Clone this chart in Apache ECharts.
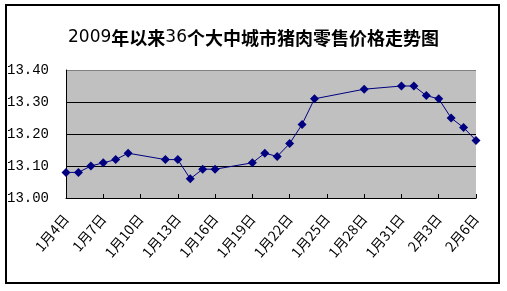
<!DOCTYPE html>
<html>
<head>
<meta charset="utf-8">
<script src="https://cdn.jsdelivr.net/npm/echarts@6/dist/echarts.min.js"></script>
<style>
html,body{margin:0;padding:0;background:#fff;}
#c{width:507px;height:291px;}
</style>
</head>
<body>
<div id="c"></div>
<script>
const titleText = '2009年以来36个大中城市猪肉零售价格走势图';
const categories = [
  '1月4日','1月5日','1月6日','1月7日','1月8日','1月9日','1月10日','1月11日','1月12日','1月13日',
  '1月14日','1月15日','1月16日','1月17日','1月18日','1月19日','1月20日','1月21日','1月22日','1月23日',
  '1月24日','1月25日','1月26日','1月27日','1月28日','1月29日','1月30日','1月31日',
  '2月1日','2月2日','2月3日','2月4日','2月5日','2月6日'
];
const prices = [
  13.08, 13.08, 13.10, 13.11, 13.12, 13.14, null, null, 13.12, 13.12,
  13.06, 13.09, 13.09, null, null, 13.11, 13.14, 13.13, 13.17, 13.23,
  13.31, null, null, null, 13.34, null, null, 13.35,
  13.35, 13.32, 13.31, 13.25, 13.22, 13.18
];
const yMin = 13.0, yMax = 13.4, yStep = 0.1;

const chart = echarts.init(document.getElementById('c'), null, {renderer: 'canvas'});
chart.setOption({
  backgroundColor: '#fff',
  animation: false,
  title: {
    text: '{d|2009}{c|年以来}{d|36}{c|个大中城市猪肉零售价格走势图}',
    left: 'center',
    top: 24,
    textStyle: {
      rich: {
        d: {fontFamily: 'DejaVu Sans', fontSize: 17, fontWeight: 'normal', color: '#000'},
        c: {fontFamily: 'Noto Sans CJK SC', fontSize: 18, fontWeight: 'bold', color: '#000'}
      }
    }
  },
  graphic: [{
    type: 'rect',
    shape: {x: 6, y: 5, width: 493, height: 278},
    style: {fill: 'none', stroke: '#000', lineWidth: 2},
    z: 100
  }],
  grid: {
    left: 66, right: 31, top: 70, bottom: 93,
    show: true, backgroundColor: '#C0C0C0', borderWidth: 0
  },
  xAxis: {
    type: 'category',
    data: categories,
    boundaryGap: false,
    axisLine: {lineStyle: {color: '#000', width: 1}},
    axisTick: {show: true, inside: true, length: 4, interval: 2, lineStyle: {color: '#000'}},
    axisLabel: {
      interval: 2, rotate: 50, margin: 18,
      fontFamily: 'Noto Sans CJK SC', fontSize: 14, color: '#000'
    },
    splitLine: {show: false}
  },
  yAxis: {
    type: 'value',
    min: yMin, max: yMax, interval: yStep,
    axisLine: {show: true, lineStyle: {color: '#000', width: 1}},
    axisTick: {show: false},
    axisLabel: {
      align: 'left', margin: 59,
      fontFamily: 'Liberation Mono', fontSize: 14, color: '#000',
      formatter: v => v.toFixed(2)
    },
    splitLine: {show: true, lineStyle: {color: ['#000','#000','#000','#000','#808080'], width: 1}}
  },
  series: [{
    type: 'line',
    data: prices,
    connectNulls: true,
    symbol: 'diamond',
    symbolSize: 9,
    showAllSymbol: true,
    lineStyle: {color: '#000080', width: 1},
    itemStyle: {color: '#000080'}
  }]
});
</script>
</body>
</html>
